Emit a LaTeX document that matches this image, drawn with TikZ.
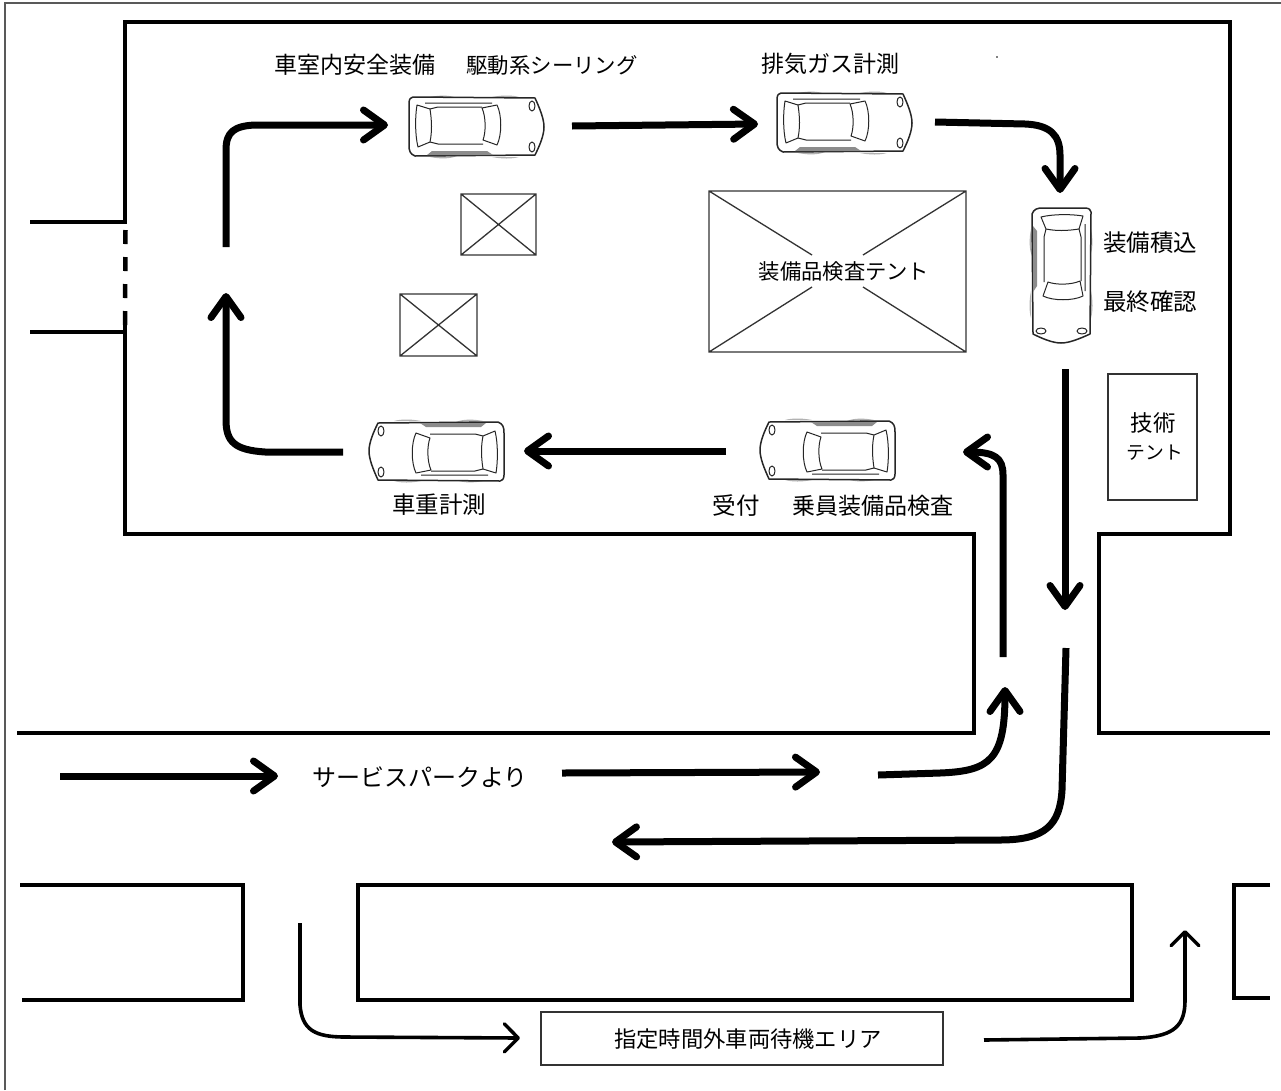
\documentclass[tikz,border=0pt]{standalone}
\usepackage{fontspec}
\setmainfont{Noto Sans CJK JP}
\usetikzlibrary{arrows.meta}
\newcommand{\fsz}[1]{\fontsize{#1pt}{#1pt}\selectfont}
\tikzset{
  x=1pt,y=-1pt,
  wall/.style={line width=4pt,line join=miter},
  thinbox/.style={draw=black!80,line width=1.3pt},
  bigarrow/.style={line width=7pt,line join=round,-{Straight Barb[length=21pt,width=30pt,line width=7pt,round]}},
  smallarrow/.style={line width=3.6pt,line join=round,-{Straight Barb[length=14pt,width=28pt,line width=3.4pt,round]}},
  lab/.style={inner sep=0pt,font=\fsz{23}},
  carline/.style={line width=1pt,line join=round,draw=black!85},
  pics/carshape/.style={code={
    % wheels
    \fill[black!30] (-47,-30) .. controls (-37,-32) and (-27,-32) .. (-20,-29) -- cycle;
    \fill[black!30] (-47,30) .. controls (-37,32) and (-27,32) .. (-20,29) -- cycle;
    \fill[black!30] (15,-30) .. controls (25,-32) and (35,-32) .. (42,-30) -- cycle;
    \fill[black!30] (15,30) .. controls (25,32) and (35,32) .. (42,30) -- cycle;
    % body
    \draw[carline,line width=1.5pt,fill=white] (-64,-30) -- (58,-29) .. controls (63,-18) and (67,-8) .. (67,0)
      .. controls (67,8) and (63,18) .. (58,28) -- (-62,29) .. controls (-67,27) and (-68,24) .. (-68,18)
      -- (-68,-24) .. controls (-68,-28) and (-66,-30) .. (-64,-30) -- cycle;
    % cabin
    \draw[carline] (-60,-22) -- (-47,-18) .. controls (-45,-5) and (-45,5) .. (-47,15) -- (-59,20) .. controls (-62,8) and (-62,-10) .. (-60,-22) -- cycle;
    \draw[carline] (5,-19) -- (20,-22) .. controls (25,-12) and (25,8) .. (20,18) -- (6,13) .. controls (9,5) and (9,-10) .. (5,-19) -- cycle;
    \draw[carline] (-52,-24) -- (15,-24) (-47,-18) -- (-39,-20) -- (5,-20) (-47,15) -- (-39,17) -- (6,17);
    \fill[black!45] (-50,28) -- (16,28) -- (10,24) -- (-45,24) -- cycle;
    \draw[carline] (55,-21) ellipse (3pt and 5pt) (55,20) ellipse (3pt and 5pt);
  }}
}
\begin{document}
\begin{tikzpicture}
\useasboundingbox (0,0) rectangle (1281,1090);
\fill[white] (0,0) rectangle (1281,1090);
\draw[black!65,line width=1.5pt] (5,1090) -- (5,3) -- (1281,3);

% walls
\draw[wall] (30,222) -- (125,222) -- (125,22) -- (1230,22) -- (1230,534) -- (1099,534) -- (1099,733) -- (1270,733);
\draw[wall] (30,332) -- (125,332) (125,325) -- (125,534) -- (974,534) -- (974,733) -- (17,733);
\draw[line width=4.5pt,dash pattern=on 14pt off 13pt] (125.5,230) -- (125,325);
\draw[wall] (20,885) -- (243,885) -- (243,1000) -- (22,1000);
\draw[wall] (358,885) rectangle (1132,1000);
\draw[wall] (1270,885) -- (1234,885) -- (1234,998) -- (1270,998);
\fill (997,57) circle (0.9pt);

% crossed boxes
\draw[thinbox] (461,194) rectangle (536,255) (461,194) -- (536,255) (536,194) -- (461,255);
\draw[thinbox] (400,294) rectangle (477,356) (400,294) -- (477,356) (477,294) -- (400,356);
\draw[thinbox] (709,191) rectangle (966,352) (709,191) -- (812,255) (966,191) -- (863,255) (709,352) -- (812,287) (966,352) -- (863,287);
\node[lab,font=\fsz{21.3}] (tent) at (844,271) {装備品検査テント};
\node[thinbox,minimum width=89pt,minimum height=126pt,inner sep=0pt] (techbox) at (1152.5,437) {};
\node[lab,font=\fsz{22.5}] (tech1) at (1153,423) {技術};
\node[lab,font=\fsz{18.8}] (tech2) at (1155,453) {テント};
\node[thinbox,minimum width=402pt,minimum height=53pt,inner sep=0pt] (wait) at (742,1038.5) {};
\node[lab,font=\fsz{22.3}] (waitlabel) at (748,1039) {指定時間外車両待機エリア};

% cars
\pic (car1) at (477,127) {carshape};
\pic (car2) at (845,123) {carshape};
\pic[rotate=-90] (car3) at (1061,276) {carshape};
\pic[rotate=180] (car4) at (436,451) {carshape};
\pic[rotate=180] (car5) at (827,450) {carshape};

% labels
\node[lab] (l1) at (355,65) {車室内安全装備};
\node[lab,font=\fsz{21.4}] (l2) at (552,65) {駆動系シーリング};
\node[lab] (l3) at (830,64) {排気ガス計測};
\node[lab,font=\fsz{23.5}] (l4) at (1150,243) {装備積込};
\node[lab,font=\fsz{23.5}] (l5) at (1150,302) {最終確認};
\node[lab,font=\fsz{23.5}] (l6) at (736,506) {受付};
\node[lab] (l7) at (873,506) {乗員装備品検査};
\node[lab,font=\fsz{23.5}] (l8) at (439,505) {車重計測};
\node[lab,font=\fsz{24}] (l9) at (420,777) {サービスパークより};

% connector end points
\coordinate (a1s) at (226,247); \coordinate (a1e) at (388,125);
\coordinate (a2s) at (572,126); \coordinate (a2e) at (758,124);
\coordinate (a3s) at (935,122); \coordinate (a3e) at (1060,193);
\coordinate (a4s) at (1065,369); \coordinate (a4e) at (1065,610);
\coordinate (a5s) at (1066,648); \coordinate (a5e) at (612,842);
\coordinate (a6s) at (1003,657); \coordinate (a6e) at (963,452);
\coordinate (a7s) at (726,451); \coordinate (a7e) at (524,451);
\coordinate (a8s) at (343,452); \coordinate (a8e) at (226,293);
\coordinate (a9s) at (60,776); \coordinate (a9e) at (278,776);
\coordinate (a10s) at (562,773); \coordinate (a10e) at (820,772);
\coordinate (a11s) at (878,775); \coordinate (a11e) at (1005,687);
\coordinate (a12s) at (300,923); \coordinate (a12e) at (520,1038);
\coordinate (a13s) at (984,1040); \coordinate (a13e) at (1185,930);

% arrows
\draw[bigarrow] (a1s) -- (226,150) .. controls (226,132) and (234,126) .. (255,125) -- (a1e);
\draw[bigarrow] (a2s) -- (a2e);
\draw[bigarrow] (a3s) -- (1025,124) .. controls (1050,125) and (1060,135) .. (1060,155) -- (a3e);
\draw[bigarrow] (a4s) -- (a4e);
\draw[bigarrow] (a5s) -- (1062,790) .. controls (1060,825) and (1045,840) .. (1000,840) -- (a5e);
\draw[bigarrow] (a6s) -- (1003,475) .. controls (1003,458) and (995,452) .. (a6e);
\draw[bigarrow] (a7s) -- (a7e);
\draw[bigarrow] (a8s) -- (265,452) .. controls (235,450) and (226,442) .. (226,420) -- (a8e);
\draw[bigarrow] (a9s) -- (a9e);
\draw[bigarrow] (a10s) -- (a10e);
\draw[bigarrow] (a11s) -- (940,773) .. controls (990,771) and (1005,760) .. (a11e);
\draw[smallarrow] (a12s) -- (300,1005) .. controls (302,1030) and (315,1037) .. (345,1037) -- (a12e);
\draw[smallarrow] (a13s) -- (1140,1038) .. controls (1175,1036) and (1185,1025) .. (1185,1000) -- (a13e);
\end{tikzpicture}
\end{document}
